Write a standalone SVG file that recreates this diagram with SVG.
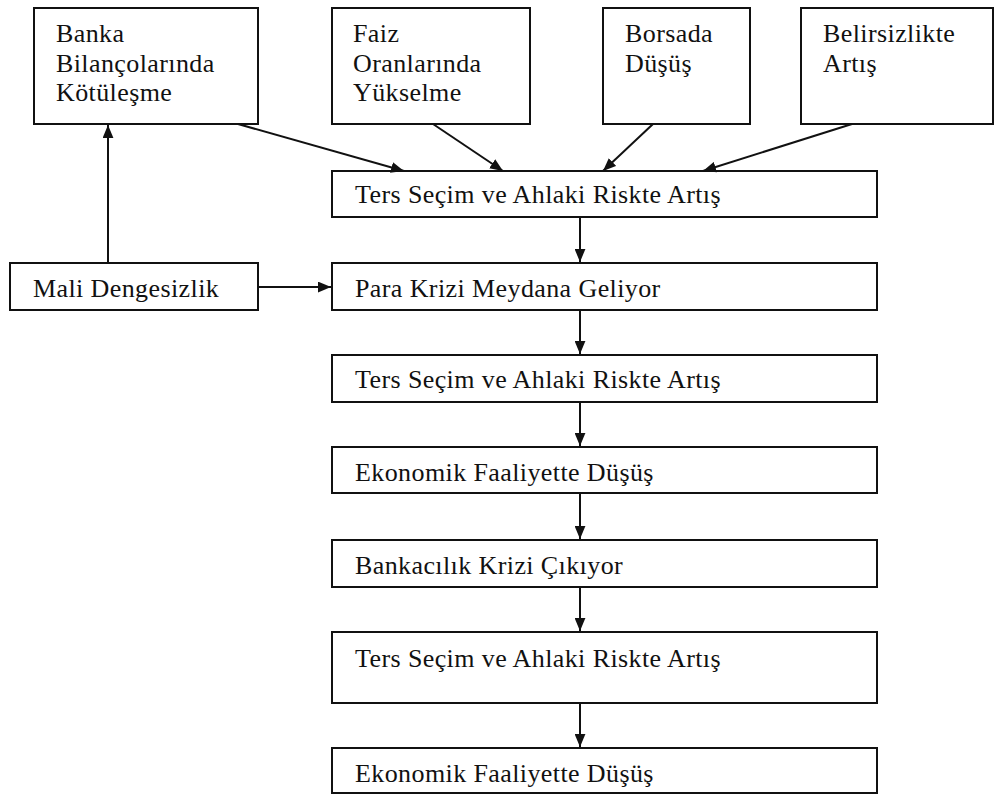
<svg xmlns="http://www.w3.org/2000/svg" width="995" height="796" viewBox="0 0 995 796">
<style>
rect{fill:#fff;stroke:#111;stroke-width:2}
text{font-family:"Liberation Serif","Times New Roman",serif;font-size:26px;letter-spacing:0.4px;fill:#111}
.c line{stroke:#111;stroke-width:2}
</style>
<defs>
<marker id="ah" viewBox="0 0 12 10" refX="12" refY="5" markerWidth="13" markerHeight="11" markerUnits="userSpaceOnUse" orient="auto">
<path d="M0,0 L12,5 L0,10 Z" fill="#111"/>
</marker>
</defs>
<rect width="995" height="796" style="fill:#fff;stroke:none"/>
<g id="n-banka"><rect x="34" y="8" width="224" height="116"/><text x="56" y="42">Banka</text><text x="56" y="72">Bilançolarında</text><text x="56" y="101">Kötüleşme</text></g>
<g id="n-faiz"><rect x="332" y="8" width="198" height="116"/><text x="353" y="42">Faiz</text><text x="353" y="72">Oranlarında</text><text x="353" y="101">Yükselme</text></g>
<g id="n-borsa"><rect x="603" y="8" width="147" height="116"/><text x="625" y="42">Borsada</text><text x="625" y="72">Düşüş</text></g>
<g id="n-belirsiz"><rect x="801" y="8" width="192" height="116"/><text x="823" y="42">Belirsizlikte</text><text x="823" y="72">Artış</text></g>
<g id="n-ters1"><rect x="332" y="171" width="545" height="46"/><text x="355" y="203">Ters Seçim ve Ahlaki Riskte Artış</text></g>
<g id="n-mali"><rect x="10" y="263" width="248" height="47"/><text x="33" y="297">Mali Dengesizlik</text></g>
<g id="n-para"><rect x="332" y="263" width="545" height="47"/><text x="355" y="297">Para Krizi Meydana Geliyor</text></g>
<g id="n-ters2"><rect x="332" y="355" width="545" height="47"/><text x="355" y="388">Ters Seçim ve Ahlaki Riskte Artış</text></g>
<g id="n-eko1"><rect x="332" y="447" width="545" height="46"/><text x="355" y="481">Ekonomik Faaliyette Düşüş</text></g>
<g id="n-banka2"><rect x="332" y="540" width="545" height="47"/><text x="355" y="574">Bankacılık Krizi Çıkıyor</text></g>
<g id="n-ters3"><rect x="332" y="632" width="545" height="71"/><text x="355" y="667">Ters Seçim ve Ahlaki Riskte Artış</text></g>
<g id="n-eko2"><rect x="332" y="748" width="545" height="45"/><text x="355" y="782">Ekonomik Faaliyette Düşüş</text></g>
<g class="c" id="connectors">
<line x1="238" y1="124" x2="404" y2="171" marker-end="url(#ah)"/>
<line x1="433" y1="124" x2="503" y2="171" marker-end="url(#ah)"/>
<line x1="653" y1="124" x2="603" y2="171" marker-end="url(#ah)"/>
<line x1="852" y1="124" x2="703" y2="171" marker-end="url(#ah)"/>
<line x1="108" y1="263" x2="108" y2="125" marker-end="url(#ah)"/>
<line x1="258" y1="287" x2="331" y2="287" marker-end="url(#ah)"/>
<line x1="580" y1="217" x2="580" y2="262" marker-end="url(#ah)"/>
<line x1="580" y1="310" x2="580" y2="354" marker-end="url(#ah)"/>
<line x1="580" y1="402" x2="580" y2="446" marker-end="url(#ah)"/>
<line x1="580" y1="493" x2="580" y2="539" marker-end="url(#ah)"/>
<line x1="580" y1="587" x2="580" y2="631" marker-end="url(#ah)"/>
<line x1="580" y1="703" x2="580" y2="747" marker-end="url(#ah)"/>
</g>
</svg>
